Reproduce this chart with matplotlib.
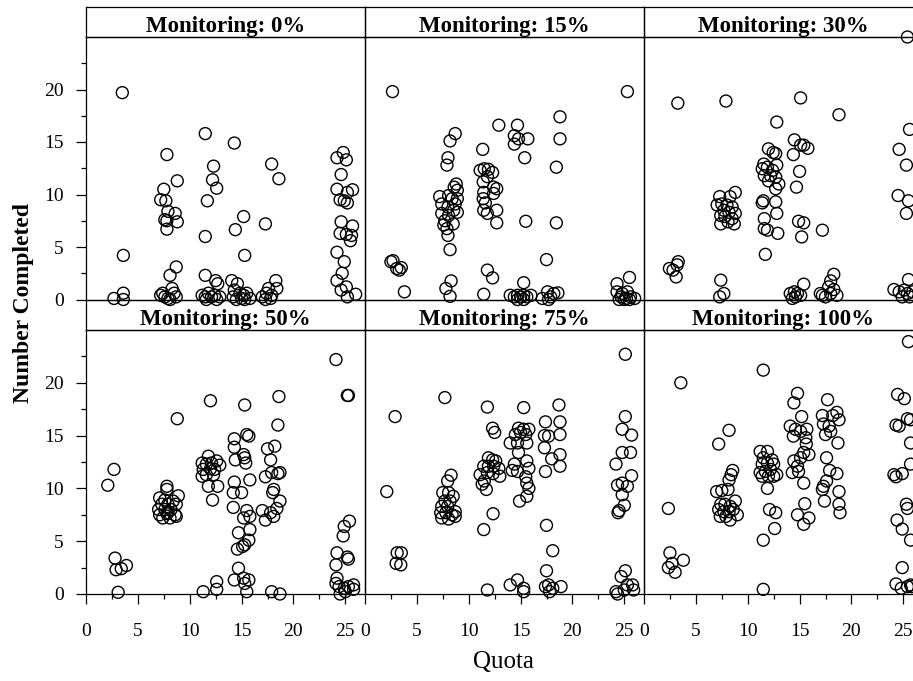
import matplotlib
matplotlib.use("Agg")
import matplotlib.pyplot as plt
from matplotlib.ticker import FixedLocator, NullLocator

plt.rcParams['font.family'] = ['Liberation Serif', 'DejaVu Serif']

# panel titles, in lattice order (top row left->right, then bottom row)
titles = ['Monitoring: 0%', 'Monitoring: 15%', 'Monitoring: 30%',
          'Monitoring: 50%', 'Monitoring: 75%', 'Monitoring: 100%']

# (quota, number completed)
pts_0 = [(3.5, 19.7), (3.6, 4.2), (3.6, 0.6), (2.7, 0.1), (3.6, 0.0),
         (7.8, 13.8), (7.5, 10.5), (7.2, 9.5), (7.7, 9.4), (8.8, 11.3), (7.9, 8.4), (8.6, 8.2),
         (7.6, 7.6), (7.8, 7.5), (8.8, 7.4), (7.8, 6.7), (8.7, 3.1), (8.1, 2.3), (7.4, 0.6),
         (7.6, 0.25), (7.9, 0.1), (8.3, 1.05), (8.5, 0.6), (8.7, 0.25), (8.1, 0.0), (7.2, 0.4),
         (11.5, 15.8), (12.3, 12.7), (12.2, 11.4), (12.6, 10.6), (11.7, 9.4), (11.5, 6.0),
         (11.5, 2.3), (12.5, 1.8), (12.7, 1.5), (11.2, 0.4), (11.5, 0.25), (11.8, 0.6),
         (12.1, 0.25), (12.4, 0.4), (12.9, 0.25), (11.6, 0.0), (12.6, 0.0),
         (14.3, 14.9), (15.2, 7.9), (14.4, 6.65), (15.3, 4.2), (14.05, 1.8), (14.6, 1.5),
         (14.3, 0.9), (14.85, 0.6), (15.2, 0.4), (15.5, 0.6), (14.2, 0.25), (14.5, 0.0),
         (15.0, 0.1), (15.8, 0.1), (15.3, 0.0),
         (17.9, 12.9), (18.6, 11.5), (17.3, 7.2), (18.3, 1.8), (17.6, 1.05), (18.4, 1.05),
         (17.4, 0.6), (17.9, 0.4), (17.0, 0.25), (17.3, 0.0), (17.8, 0.1),
         (24.8, 14.0), (24.2, 13.5), (25.1, 13.3), (24.6, 11.9), (24.2, 10.5), (25.7, 10.45),
         (25.2, 10.2), (24.5, 9.5), (24.9, 9.4), (25.2, 9.2), (24.6, 7.4), (25.7, 7.0),
         (24.5, 6.3), (25.1, 6.2), (25.6, 6.1), (25.5, 5.6), (24.2, 4.5), (24.9, 3.6),
         (24.7, 2.5), (24.2, 1.8), (25.1, 1.2), (24.6, 0.9), (26.0, 0.5), (25.2, 0.25)]

pts_15 = [(2.65, 19.8), (25.3, 19.8),
          (2.5, 3.6), (2.7, 3.7), (3.06, 2.95), (3.5, 3.04), (3.8, 0.73), (3.3, 2.8),
          (8.7, 15.8), (8.2, 15.1), (8.0, 13.5), (7.9, 12.8), (8.8, 11.0), (8.6, 10.7), (8.9, 10.4),
          (7.2, 9.8), (7.4, 9.1), (8.06, 9.9), (8.4, 9.6), (8.9, 9.6), (8.7, 9.1), (8.0, 8.8),
          (8.55, 8.5), (8.9, 8.3), (7.4, 8.2), (8.06, 8.0), (7.7, 7.5), (8.5, 7.2), (7.6, 7.1),
          (7.9, 6.75), (8.0, 6.1), (8.2, 4.75), (8.3, 1.77), (7.8, 1.05), (8.2, 0.3),
          (11.35, 14.3), (11.1, 12.3), (11.5, 12.45), (11.9, 12.4), (12.3, 12.1), (11.8, 11.7),
          (11.4, 11.2), (12.4, 10.7), (12.7, 10.55), (11.45, 10.2), (12.4, 10.1), (11.4, 9.6),
          (11.6, 9.2), (11.45, 8.5), (11.8, 8.2), (12.7, 8.5), (12.7, 7.3), (11.8, 2.8),
          (12.3, 2.06), (11.45, 0.5),
          (12.9, 16.6), (14.7, 16.6), (14.4, 15.6), (14.8, 15.3), (15.7, 15.3), (14.4, 14.8),
          (15.4, 13.5), (15.5, 7.45), (15.3, 1.6), (14.0, 0.4), (14.4, 0.25), (14.7, 0.4),
          (15.0, 0.25), (15.3, 0.4), (15.6, 0.25), (16.0, 0.4), (14.7, 0.0), (15.3, 0.0),
          (18.8, 17.4), (18.8, 15.3), (18.45, 12.6), (18.45, 7.3), (17.5, 3.8), (17.6, 0.73),
          (17.1, 0.1), (17.9, 0.25), (18.2, 0.57), (18.6, 0.63), (17.7, 0.0),
          (25.5, 2.1), (24.3, 1.5), (24.3, 0.73), (24.8, 0.57), (25.3, 0.73), (24.7, 0.25),
          (25.2, 0.1), (25.6, 0.25), (26.0, 0.1), (24.5, 0.0), (25.0, 0.0), (25.5, 0.0)]

pts_30 = [(25.4, 25.0), (3.26, 18.7), (7.9, 18.9), (15.1, 19.2), (18.8, 17.6), (12.8, 16.9),
          (25.6, 16.2), (24.6, 14.3), (25.3, 12.8), (24.5, 9.9), (25.5, 9.4), (25.3, 8.2),
          (2.45, 2.95), (2.8, 2.8), (3.3, 3.6), (3.2, 3.3), (3.1, 2.15),
          (8.8, 10.2), (7.3, 9.8), (8.3, 9.8), (7.05, 9.0), (7.5, 9.1), (8.0, 9.0), (8.5, 8.8),
          (7.7, 8.5), (8.2, 8.3), (8.8, 8.2), (7.4, 8.0), (7.8, 7.9), (8.5, 7.7), (7.4, 7.2),
          (8.1, 7.4), (8.7, 7.2), (7.4, 1.84), (7.7, 0.57), (7.3, 0.25),
          (12.0, 14.35), (12.45, 14.0), (12.7, 13.9), (12.8, 12.8), (11.55, 12.9), (11.4, 12.45),
          (11.9, 12.6), (12.4, 12.3), (11.6, 11.8), (12.2, 11.8), (12.7, 11.65), (12.0, 11.3),
          (13.0, 11.0), (12.7, 10.55), (11.5, 9.4), (11.4, 9.2), (12.7, 9.3), (12.8, 8.2),
          (11.6, 7.7), (11.6, 6.75), (11.9, 6.6), (12.9, 6.3), (11.7, 4.3),
          (14.5, 15.2), (15.1, 14.7), (15.4, 14.7), (15.8, 14.4), (14.4, 13.8), (15.0, 12.2),
          (14.7, 10.7), (14.9, 7.45), (15.4, 7.3), (15.2, 5.96), (15.4, 1.46), (14.1, 0.57),
          (14.5, 0.73), (14.8, 0.57), (15.1, 0.4), (14.3, 0.1), (14.6, 0.25),
          (17.2, 6.6), (18.3, 2.4), (18.0, 1.77), (17.8, 1.2), (18.3, 0.95), (18.6, 0.4),
          (17.2, 0.4), (17.5, 0.25), (18.0, 0.57), (17.0, 0.57),
          (25.5, 1.9), (24.1, 0.95), (24.6, 0.73), (25.1, 0.9), (25.4, 0.57), (25.9, 0.73),
          (24.9, 0.25), (25.6, 0.25)]

pts_50 = [(24.1, 22.2), (25.2, 18.8), (25.3, 18.8), (12.0, 18.3), (15.3, 17.9), (18.6, 18.7),
          (8.8, 16.6), (18.5, 16.0), (2.7, 11.8), (2.1, 10.3),
          (2.8, 3.4), (2.9, 2.3), (3.4, 2.4), (3.9, 2.7), (3.1, 0.16),
          (7.8, 10.2), (7.8, 9.9), (8.9, 9.3), (7.1, 9.1), (7.6, 8.9), (8.4, 8.8), (7.3, 8.5),
          (7.9, 8.5), (8.7, 8.5), (7.0, 8.0), (7.6, 8.0), (8.2, 8.0), (7.1, 7.5), (7.8, 7.6),
          (8.6, 7.5), (7.4, 7.2), (8.1, 7.2), (8.7, 7.35), (7.9, 7.7),
          (11.8, 13.05), (11.2, 12.4), (11.6, 12.3), (12.1, 12.4), (12.6, 12.6), (12.9, 12.2),
          (11.3, 11.8), (12.0, 11.85), (12.4, 11.8), (11.6, 11.3), (12.3, 11.3), (11.2, 11.15),
          (11.8, 10.2), (12.7, 10.2), (12.2, 8.9), (12.6, 1.17), (12.6, 0.44), (11.3, 0.22),
          (14.3, 14.7), (14.3, 13.9), (15.5, 15.1), (15.7, 14.95), (15.2, 13.2), (15.3, 12.9),
          (14.4, 12.7), (15.4, 12.4), (14.3, 10.6), (14.2, 9.6), (15.0, 9.6), (15.8, 10.8),
          (14.2, 8.2), (15.5, 7.9), (15.2, 7.2), (15.8, 7.35), (14.7, 5.8), (15.8, 6.1),
          (15.7, 5.1), (15.3, 4.66), (15.1, 4.5), (14.6, 4.25), (14.7, 2.44), (14.3, 1.33),
          (15.2, 1.5), (15.7, 1.33), (15.3, 1.0), (15.5, 0.22),
          (17.5, 13.75), (18.2, 14.0), (17.8, 12.7), (17.3, 11.1), (17.9, 11.5), (18.5, 11.4),
          (18.7, 11.5), (18.1, 9.9), (18.0, 9.6), (18.7, 8.8), (17.0, 7.9), (18.4, 8.1),
          (17.8, 7.7), (17.3, 7.0), (18.1, 7.35), (17.9, 0.22), (18.7, 0.0),
          (25.4, 6.9), (24.9, 6.4), (24.8, 5.5), (24.2, 3.9), (25.2, 3.5), (25.3, 3.3),
          (24.1, 2.76), (24.2, 1.5), (24.1, 1.0), (24.4, 0.7), (24.9, 0.54), (25.3, 0.7),
          (25.8, 0.86), (25.8, 0.44), (25.0, 0.22), (24.5, 0.0)]

pts_75 = [(25.1, 22.7), (7.7, 18.6), (2.9, 16.8), (2.1, 9.7),
          (3.1, 3.9), (3.5, 3.9), (3.0, 2.9), (3.45, 2.76),
          (8.3, 11.25), (7.97, 10.7), (7.5, 9.6), (8.06, 9.6), (8.5, 9.25), (7.7, 8.8), (8.2, 8.8),
          (7.4, 8.3), (7.97, 8.3), (8.7, 7.8), (7.3, 7.7), (7.8, 7.7), (8.4, 7.5), (7.4, 7.2),
          (8.06, 7.1), (8.7, 7.35),
          (11.8, 17.7), (12.3, 15.7), (12.5, 15.3), (11.9, 12.9), (12.3, 12.7), (12.6, 12.6),
          (11.45, 12.1), (11.9, 12.1), (12.4, 12.1), (12.9, 11.9), (11.1, 11.3), (11.8, 11.5),
          (12.35, 11.4), (13.0, 11.15), (11.5, 10.7), (11.3, 10.4), (11.7, 9.9), (12.35, 7.6),
          (11.45, 6.1), (11.8, 0.38),
          (15.3, 17.65), (14.8, 15.7), (15.3, 15.6), (15.8, 15.6), (14.5, 15.1), (15.0, 15.3),
          (15.5, 15.1), (14.0, 14.3), (14.7, 14.3), (15.6, 14.3), (14.8, 13.4), (14.4, 12.3),
          (15.6, 12.6), (15.8, 11.9), (14.2, 11.7), (14.7, 11.6), (15.5, 11.1), (15.6, 10.5),
          (15.8, 10.0), (15.6, 9.25), (14.9, 8.8), (14.0, 0.86), (14.7, 1.33), (15.3, 0.54),
          (15.3, 0.22),
          (18.7, 17.9), (17.4, 16.3), (18.8, 16.3), (17.3, 15.0), (17.7, 14.95), (18.8, 15.1),
          (17.3, 13.85), (18.8, 13.2), (18.0, 12.8), (18.8, 12.1), (17.4, 11.6), (17.5, 6.5),
          (18.1, 4.1), (17.5, 2.2), (17.4, 0.7), (17.7, 0.86), (18.1, 0.54), (18.9, 0.7),
          (17.8, 0.22),
          (25.1, 16.8), (24.8, 15.6), (25.7, 15.05), (24.8, 13.4), (25.6, 13.4), (24.2, 12.3),
          (25.7, 11.2), (24.35, 10.3), (24.8, 10.5), (25.3, 10.2), (24.8, 9.4), (25.0, 8.4),
          (24.5, 7.9), (24.4, 7.7), (25.1, 2.2), (24.7, 1.65), (25.3, 0.86), (25.8, 0.86),
          (24.2, 0.22), (24.35, 0.0), (25.0, 0.38), (25.9, 0.38)]

pts_100 = [(25.5, 23.9), (11.5, 21.2), (3.55, 20.0), (2.35, 8.1),
           (2.5, 3.9), (2.7, 2.9), (2.35, 2.5), (3.0, 2.06), (3.8, 3.2),
           (8.2, 15.5), (7.2, 14.2), (8.55, 11.7), (8.4, 11.3), (8.2, 10.8), (7.0, 9.7), (7.5, 9.8),
           (8.1, 9.9), (8.8, 8.8), (7.4, 8.5), (7.8, 8.5), (8.3, 8.3), (7.2, 8.0), (7.7, 7.8),
           (8.2, 7.8), (8.6, 8.0), (7.35, 7.35), (7.9, 7.35), (9.0, 7.5), (8.3, 7.0),
           (11.2, 13.5), (11.9, 13.5), (11.5, 12.9), (12.35, 12.7), (11.4, 12.3), (11.9, 12.4),
           (12.5, 12.3), (11.2, 11.5), (11.7, 11.6), (12.2, 11.8), (12.8, 11.3), (11.4, 11.15),
           (12.0, 11.15), (12.5, 11.15), (11.9, 10.0), (12.1, 8.0), (12.7, 7.7), (12.6, 6.2),
           (11.5, 5.1), (11.5, 0.44),
           (14.8, 19.0), (14.45, 18.1), (15.2, 16.8), (14.1, 15.9), (14.6, 15.6), (15.1, 15.4),
           (15.7, 15.6), (14.4, 14.95), (15.6, 14.8), (15.65, 14.2), (15.4, 13.4), (15.9, 13.2),
           (15.1, 12.9), (14.45, 12.6), (14.8, 12.1), (14.3, 11.5), (14.9, 11.6), (15.4, 10.5),
           (15.5, 8.55), (14.8, 7.5), (15.9, 7.2), (15.4, 6.6),
           (17.7, 18.4), (17.2, 16.9), (18.6, 17.2), (18.2, 16.9), (18.8, 16.5), (17.3, 16.1),
           (17.85, 15.9), (17.5, 15.1), (18.0, 15.4), (18.7, 14.3), (17.6, 12.9), (17.9, 11.7),
           (18.6, 11.4), (17.6, 10.7), (17.3, 10.2), (17.2, 9.9), (18.8, 9.7), (17.4, 8.8),
           (18.8, 8.5), (18.9, 7.7),
           (24.45, 18.9), (25.1, 18.5), (25.4, 16.6), (25.7, 16.5), (24.3, 16.0), (24.6, 15.9),
           (25.7, 14.3), (25.7, 12.3), (24.1, 11.3), (24.3, 11.1), (24.9, 11.4), (25.3, 8.5),
           (25.4, 8.1), (24.4, 7.0), (24.9, 6.15), (25.7, 5.1), (24.9, 2.5), (24.3, 0.95),
           (24.8, 0.54), (25.4, 0.7), (25.7, 0.86), (25.8, 0.7)]

panels = [pts_0, pts_15, pts_30, pts_50, pts_75, pts_100]

x_major = [0, 5, 10, 15, 20, 25]
x_minor = [2.5, 7.5, 12.5, 17.5, 22.5]
y_major = [0, 5, 10, 15, 20]
y_minor = [2.5, 7.5, 12.5, 17.5, 22.5]

W, H = 913, 681
fig = plt.figure(figsize=(W / 100, H / 100), dpi=100)


def box(left, top, width, height):
    # pixel box (from top-left) -> figure fraction
    return [left / W, 1 - (top + height) / H, width / W, height / H]


col_left = [86, 365, 644]
panel_w = 279
strip_top = [7, 300]
strip_h = 30
panel_top = [37, 330]
panel_h = [262.5, 264]

for i, (title, pts) in enumerate(zip(titles, panels)):
    r, c = divmod(i, 3)

    # strip with the panel title
    st = fig.add_axes(box(col_left[c], strip_top[r], panel_w, strip_h), zorder=0)
    st.patch.set_visible(False)
    st.set_xticks([])
    st.set_yticks([])
    for sp in st.spines.values():
        sp.set_linewidth(0.9)
    st.text(0.5, 0.36, title, ha='center', va='center', fontsize=16.5,
            fontweight='bold', transform=st.transAxes)

    ax = fig.add_axes(box(col_left[c], panel_top[r], panel_w, panel_h[r]), zorder=1)
    ax.patch.set_visible(False)
    xs = [p[0] for p in pts]
    ys = [p[1] for p in pts]
    ax.scatter(xs, ys, s=74, facecolors='none', edgecolors='black',
               linewidths=1.0, clip_on=False)
    ax.set_xlim(0, 26.9)
    ax.set_ylim(0, 25)
    for sp in ax.spines.values():
        sp.set_linewidth(0.9)

    ax.tick_params(which='both', direction='out', width=0.9, labelsize=14)
    ax.tick_params(which='major', length=7)
    ax.tick_params(which='minor', length=3.6)

    if c == 0:
        ax.yaxis.set_major_locator(FixedLocator(y_major))
        ax.yaxis.set_minor_locator(FixedLocator(y_minor))
        ax.tick_params(axis='y', pad=9)
    else:
        ax.yaxis.set_major_locator(NullLocator())
        ax.yaxis.set_minor_locator(NullLocator())

    if r == 1:
        ax.xaxis.set_major_locator(FixedLocator(x_major))
        ax.xaxis.set_minor_locator(FixedLocator(x_minor))
        ax.tick_params(axis='x', pad=14)
    else:
        ax.xaxis.set_major_locator(NullLocator())
        ax.xaxis.set_minor_locator(NullLocator())

fig.text(23 / W, 1 - 303 / H, 'Number Completed', rotation=90, ha='center', va='center',
         fontsize=17, fontweight='bold')
fig.text(503 / W, 1 - 662 / H, 'Quota', ha='center', va='center', fontsize=18)

fig.savefig('out.png', dpi=100)
